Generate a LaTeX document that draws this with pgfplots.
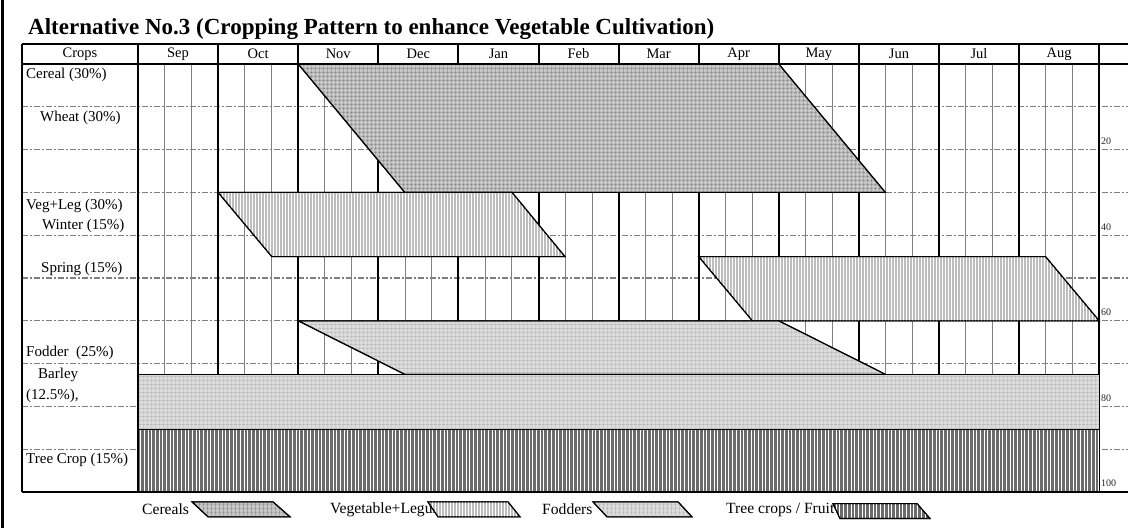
\documentclass[border=0pt]{standalone}
\usepackage{fontspec}
\setmainfont{Liberation Serif}
\usepackage{pgfplots}
\pgfplotsset{compat=1.18}
\usetikzlibrary{patterns.meta}

\tikzset{
  subline/.style={gray, line width=0.8pt},
  rowline/.style={gray, line width=1.3pt, dash pattern=on 6pt off 2pt on 2pt off 2pt},
  monthline/.style={black, line width=2pt},
  cropedge/.style={draw=black, line width=1.1pt},
  cereal/.style={cropedge, fill=gray!45, postaction={pattern={Hatch[angle=0,distance=4pt,line width=0.4pt]}, pattern color=gray!95}},
  veg/.style={cropedge, fill=gray!52, postaction={pattern={Lines[angle=90,distance=3pt,line width=0.9pt]}, pattern color=white}},
  fodder/.style={cropedge, fill=gray!28, postaction={pattern={Hatch[angle=0,distance=4pt,line width=0.35pt]}, pattern color=gray!60}},
  tree/.style={cropedge, fill=black!58, postaction={pattern={Lines[angle=90,distance=3.7pt,line width=1pt]}, pattern color=white}},
  lbl/.style={anchor=west, inner sep=0pt, font=\fontsize{15}{17}\selectfont},
  leg/.style={anchor=west, inner sep=0pt, font=\fontsize{15.6}{17}\selectfont},
  hdr/.style={inner sep=0pt, font=\fontsize{14.5}{16}\selectfont},
  pct/.style={anchor=west, inner sep=0pt, text=black!85, font=\fontsize{10}{11}\selectfont}
}

\begin{document}
\begin{tikzpicture}
\begin{axis}[
  scale only axis, width=1106pt, height=448pt,
  xmin=-1.4482, xmax=12.3596, ymin=-4.673, ymax=100,
  y dir=reverse, hide axis, clip=false, no markers]

% thin lines at thirds of each month
\pgfplotsinvokeforeach{0,...,11}{
  \draw[subline] (axis cs:#1+0.3333,0) -- (axis cs:#1+0.3333,100);
  \draw[subline] (axis cs:#1+0.6667,0) -- (axis cs:#1+0.6667,100);
}
% dash-dot row lines every 10 %
\pgfplotsinvokeforeach{10,20,...,90}{
  \draw[rowline] (axis cs:-1.4482,#1) -- (axis cs:12.3596,#1);
}
% month boundaries
\pgfplotsinvokeforeach{0,...,12}{
  \draw[monthline] (axis cs:#1,-4.673) -- (axis cs:#1,100);
}
\draw[monthline] (axis cs:-1.4482,-4.673) -- (axis cs:-1.4482,100);

% crops
\addplot[cereal] coordinates {(2,0) (8,0) (9.33,30) (3.33,30)} -- cycle;
\addplot[veg] coordinates {(1,30) (4.67,30) (5.33,45) (1.67,45)} -- cycle;
\addplot[veg] coordinates {(7,45) (11.33,45) (12,60) (7.67,60)} -- cycle;
\addplot[fodder] coordinates {(2,60) (8,60) (9.33,72.5) (3.33,72.5)} -- cycle;
\addplot[fodder] coordinates {(0,72.5) (12,72.5) (12,85.5) (0,85.5)} -- cycle;
\addplot[tree] coordinates {(0,85.5) (12,85.5) (12,100) (0,100)} -- cycle;

% header frame
\draw[monthline] (axis cs:-1.4482,-4.673) -- (axis cs:12.3596,-4.673);
\draw[monthline] (axis cs:-1.4482,0) -- (axis cs:12.3596,0);
\draw[monthline] (axis cs:-1.4482,100) -- (axis cs:0,100);
\draw[monthline] (axis cs:12,100) -- (axis cs:12.3596,100);
\draw[black, line width=2.5pt] (axis cs:-1.692,-14.953) -- (axis cs:-1.692,108.41);

% header text
\node[hdr] at (axis cs:-0.724,-2.34) {Crops};
\node[hdr] at (axis cs:0.5,-2.34) {Sep};
\node[hdr] at (axis cs:1.5,-2.34) {Oct};
\node[hdr] at (axis cs:2.5,-2.34) {Nov};
\node[hdr] at (axis cs:3.5,-2.34) {Dec};
\node[hdr] at (axis cs:4.5,-2.34) {Jan};
\node[hdr] at (axis cs:5.5,-2.34) {Feb};
\node[hdr] at (axis cs:6.5,-2.34) {Mar};
\node[hdr] at (axis cs:7.5,-2.34) {Apr};
\node[hdr] at (axis cs:8.5,-2.34) {May};
\node[hdr] at (axis cs:9.5,-2.34) {Jun};
\node[hdr] at (axis cs:10.5,-2.34) {Jul};
\node[hdr] at (axis cs:11.5,-2.34) {Aug};

% row labels
\node[lbl] at (axis cs:-1.398,2.57) {Cereal (30\%)};
\node[lbl] at (axis cs:-1.223,12.6) {Wheat (30\%)};
\node[lbl] at (axis cs:-1.398,33.2) {Veg+Leg (30\%)};
\node[lbl] at (axis cs:-1.199,37.9) {Winter (15\%)};
\node[lbl] at (axis cs:-1.211,47.9) {Spring (15\%)};
\node[lbl] at (axis cs:-1.398,67.5) {Fodder\ \ (25\%)};
\node[lbl] at (axis cs:-1.248,72.7) {Barley};
\node[lbl] at (axis cs:-1.398,77.6) {(12.5\%),};
\node[lbl] at (axis cs:-1.398,92.5) {Tree Crop (15\%)};

% percent marks in the last column
\node[pct] at (axis cs:12.022,18.0) {20};
\node[pct] at (axis cs:12.022,38.1) {40};
\node[pct] at (axis cs:12.022,57.9) {60};
\node[pct] at (axis cs:12.022,78.0) {80};
\node[pct] at (axis cs:12.022,97.9) {100};

% title
\node[anchor=west, inner sep=0pt, font=\bfseries\fontsize{23}{26}\selectfont] at (axis cs:-1.373,-8.1)
  {Alternative No.3 (Cropping Pattern to enhance Vegetable Cultivation)};

% legend
\node[leg] at (axis cs:0.05,104.1) {Cereals};
\addplot[cereal] coordinates {(0.674,102.3) (1.685,102.3) (1.898,105.8) (0.874,105.8)} -- cycle;
\node[leg] at (axis cs:2.397,104.1) {Vegetable+Legume};
\addplot[veg] coordinates {(3.620,102.3) (4.619,102.3) (4.769,105.8) (3.745,105.8)} -- cycle;
\node[leg] at (axis cs:5.044,104.1) {Fodders};
\addplot[fodder] coordinates {(5.680,102.3) (6.742,102.3) (6.916,105.8) (5.855,105.8)} -- cycle;
\node[leg] at (axis cs:7.341,104.1) {Tree crops / Fruit};
\addplot[tree] coordinates {(8.677,102.7) (9.725,102.7) (9.888,106.2) (8.764,106.2)} -- cycle;

\coordinate (bbTL) at (axis cs:-1.7228,-14.953);
\coordinate (bbBR) at (axis cs:12.3596,108.41);
\end{axis}
\pgfresetboundingbox
\path (bbTL) rectangle (bbBR);
\end{tikzpicture}
\end{document}
